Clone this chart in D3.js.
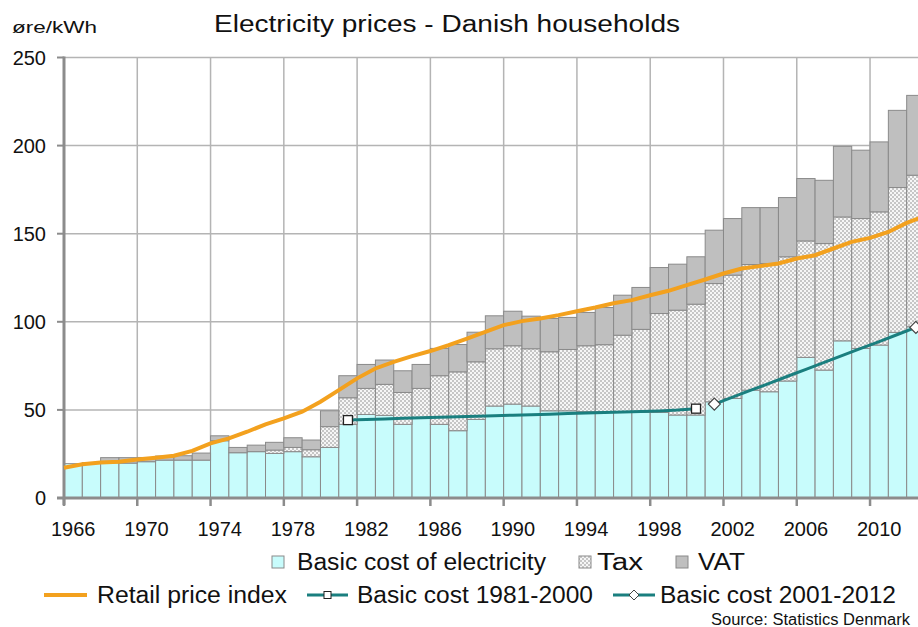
<!DOCTYPE html>
<html>
<head>
<meta charset="utf-8">
<script src="https://cdn.jsdelivr.net/npm/d3@7/dist/d3.min.js"></script>
<style>
	body { margin: 0; background: #fff; }
	text { font-family: "Liberation Sans", Arial, sans-serif; fill: #111; }
</style>
</head>
<body>
<script>
// Electricity prices for Danish households, øre/kWh
var years = d3.range(1966, 2013);

var basicCost = [19.5, 20, 20, 19.8, 20.6, 21.5, 21.5, 21.5, 32.5, 25.7,
	26.3, 25.3, 26.3, 23.4, 28.7, 41.8, 47.4, 46.9, 41.8, 45.6,
	41.8, 38.2, 44.6, 52.2, 53.3, 52.2, 49.5, 49.5, 49.0, 49.0,
	48.6, 48.6, 48.6, 47.1, 47.1, 54.6, 56.5, 61.2, 60.3, 66.4,
	79.8, 72.6, 89.2, 84.9, 86.8, 94.0, 97.2];

var tax = [0, 0, 0, 0, 0, 0, 0, 0, 0, 0,
	0, 1.9, 2.4, 4.0, 11.8, 15.1, 14.8, 17.6, 18.1, 16.6,
	27.6, 33.4, 32.7, 32.5, 33.1, 32.5, 33.5, 34.8, 37.4, 38.0,
	43.8, 47.1, 56.1, 59.5, 62.9, 67.1, 70.0, 71.3, 72.8, 70.5,
	66.1, 71.8, 70.3, 73.7, 75.6, 82.2, 86.0];

var vat = [0, 0, 2.9, 3.1, 2.4, 2.3, 2.5, 4.0, 2.8, 3.0,
	3.7, 4.4, 5.5, 5.5, 9.0, 12.5, 13.6, 13.8, 12.3, 13.6,
	15.5, 15.5, 16.8, 18.7, 19.6, 18.5, 18.9, 18.2, 18.9, 21.1,
	22.7, 23.8, 26.1, 26.1, 26.9, 30.3, 32.1, 32.3, 31.7, 33.6,
	35.4, 35.9, 40.1, 38.8, 39.7, 43.8, 45.3];

// retail price index, read at the start of each year 1966-2013
var retailYears = d3.range(1966, 2014);
var retailIndex = [17.2, 19.1, 20.2, 20.6, 21.9, 22.9, 24.0, 26.7, 31.0, 33.8,
	37.6, 41.8, 45.2, 49.0, 54.6, 61.2, 67.9, 73.5, 77.3, 80.5,
	83.4, 86.8, 90.5, 94.3, 98.1, 100.4, 101.9, 103.8, 106.0, 108.1,
	110.5, 112.3, 115.1, 117.6, 120.8, 124.0, 127.4, 130.2, 131.6, 133.1,
	135.9, 137.8, 141.6, 145.4, 147.6, 151.0, 156.1, 160.0];

var trendYears1 = d3.range(1981, 2001);
var trend1 = [44.2, 44.6, 44.9, 45.2, 45.5, 45.8, 46.1, 46.4, 46.7, 47.0,
	47.3, 47.6, 47.9, 48.2, 48.5, 48.8, 49.1, 49.4, 49.9, 50.7];

var trendYears2 = d3.range(2001, 2013);
var trend2 = [53.3, 57.2, 61.2, 65.1, 69.1, 73.0, 77.0, 80.9, 84.9, 88.8, 92.8, 96.8];

var yTicks = [0, 50, 100, 150, 200, 250];
var xTickYears = d3.range(1966, 2013, 4);

var width = 918,
	height = 627,
	plotLeft = 64,
	plotRight = 925,
	plotTop = 57.5,
	plotBottom = 498,
	colorBasic = "#c8fcfc",
	colorVat = "#bfbfbf",
	colorRetail = "#f3a11e",
	colorTrend = "#1a7f7f",
	colorGrid = "#b4b4b4",
	colorAxis = "#8c8c8c";

var svg = d3.select("body")
	.append("svg")
	.attr("width", width)
	.attr("height", height);

// checkered fill for the tax part
var pattern = svg.append("defs")
	.append("pattern")
	.attr("id", "checker")
	.attr("width", 4)
	.attr("height", 4)
	.attr("patternUnits", "userSpaceOnUse");
pattern.append("rect").attr("width", 4).attr("height", 4).attr("fill", "#f6f6f6");
pattern.append("rect").attr("width", 2).attr("height", 2).attr("fill", "#c6c6c6");
pattern.append("rect").attr("x", 2).attr("y", 2).attr("width", 2).attr("height", 2).attr("fill", "#c6c6c6");

var x = d3.scaleBand().domain(years).range([plotLeft, plotRight]).paddingInner(0).paddingOuter(0);
var xYear = d3.scaleLinear().domain([1966, 2013]).range([plotLeft, plotRight]); // start of year
var y = d3.scaleLinear().domain([0, 250]).range([plotBottom, plotTop]);

// grid
svg.append("g")
	.selectAll("line")
	.data(yTicks.slice(1))
	.enter().append("line")
	.attr("x1", plotLeft).attr("x2", plotRight)
	.attr("y1", function(d) { return y(d); })
	.attr("y2", function(d) { return y(d); })
	.attr("stroke", colorGrid)
	.attr("stroke-width", 1.5);

svg.append("g")
	.selectAll("line")
	.data(xTickYears.slice(1))
	.enter().append("line")
	.attr("x1", function(d) { return x(d); })
	.attr("x2", function(d) { return x(d); })
	.attr("y1", plotTop).attr("y2", plotBottom)
	.attr("stroke", colorGrid)
	.attr("stroke-width", 1.5);

// stacked bars
var table = years.map(function(yr, i) {
	return { year: yr, basic: basicCost[i], tax: tax[i], vat: vat[i] };
});
var stack = d3.stack().keys(["basic", "tax", "vat"])(table);
var fills = { basic: colorBasic, tax: "url(#checker)", vat: colorVat };

svg.append("g")
	.selectAll("g")
	.data(stack)
	.enter().append("g")
	.attr("fill", function(d) { return fills[d.key]; })
	.selectAll("rect")
	.data(function(d) { return d.filter(function(p) { return p[1] - p[0] > 0; }); })
	.enter().append("rect")
	.attr("x", function(d) { return x(d.data.year); })
	.attr("width", x.bandwidth())
	.attr("y", function(d) { return y(d[1]); })
	.attr("height", function(d) { return y(d[0]) - y(d[1]); })
	.attr("stroke", "#8a8a8a")
	.attr("stroke-width", 1);

// axes
svg.append("line")
	.attr("x1", plotLeft).attr("x2", plotLeft)
	.attr("y1", plotTop - 1).attr("y2", plotBottom + 7)
	.attr("stroke", colorAxis).attr("stroke-width", 3);
svg.append("line")
	.attr("x1", plotLeft - 7).attr("x2", plotRight)
	.attr("y1", plotBottom).attr("y2", plotBottom)
	.attr("stroke", colorAxis).attr("stroke-width", 3);

svg.append("g")
	.selectAll("line")
	.data(yTicks)
	.enter().append("line")
	.attr("x1", plotLeft - 7).attr("x2", plotLeft)
	.attr("y1", function(d) { return y(d); })
	.attr("y2", function(d) { return y(d); })
	.attr("stroke", colorAxis).attr("stroke-width", 2);

svg.append("g")
	.selectAll("line")
	.data(xTickYears)
	.enter().append("line")
	.attr("x1", function(d) { return x(d); })
	.attr("x2", function(d) { return x(d); })
	.attr("y1", plotBottom).attr("y2", plotBottom + 8)
	.attr("stroke", colorAxis).attr("stroke-width", 2.5);

svg.append("g")
	.selectAll("text")
	.data(yTicks)
	.enter().append("text")
	.attr("x", 46)
	.attr("y", function(d) { return y(d); })
	.attr("dy", "0.35em")
	.attr("text-anchor", "end")
	.style("font-size", "20px")
	.text(function(d) { return d; });

svg.append("g")
	.selectAll("text")
	.data(xTickYears)
	.enter().append("text")
	.attr("x", function(d) { return x(d) + x.bandwidth() / 2; })
	.attr("y", 529)
	.attr("dy", "0.35em")
	.attr("text-anchor", "middle")
	.style("font-size", "20px")
	.text(function(d) { return d; });

// lines
var retailLine = d3.line()
	.x(function(d, i) { return xYear(retailYears[i]); })
	.y(function(d) { return y(d); });

svg.append("path")
	.attr("d", retailLine(retailIndex))
	.attr("fill", "none")
	.attr("stroke", colorRetail)
	.attr("stroke-width", 4);

function trendLine(yrs, vals) {
	return d3.line()
		.x(function(d, i) { return x(yrs[i]) + x.bandwidth() / 2; })
		.y(function(d) { return y(d); })(vals);
}

svg.append("path")
	.attr("d", trendLine(trendYears1, trend1))
	.attr("fill", "none")
	.attr("stroke", colorTrend)
	.attr("stroke-width", 3);

svg.append("path")
	.attr("d", trendLine(trendYears2, trend2))
	.attr("fill", "none")
	.attr("stroke", colorTrend)
	.attr("stroke-width", 3);

// end markers
var ends1 = [0, trend1.length - 1];
svg.append("g")
	.selectAll("rect")
	.data(ends1)
	.enter().append("rect")
	.attr("x", function(i) { return x(trendYears1[i]) + x.bandwidth() / 2 - 4.5; })
	.attr("y", function(i) { return y(trend1[i]) - 4.5; })
	.attr("width", 9).attr("height", 9)
	.attr("fill", "#fff")
	.attr("stroke", "#222")
	.attr("stroke-width", 1.3);

var ends2 = [0, trend2.length - 1];
svg.append("g")
	.selectAll("path")
	.data(ends2)
	.enter().append("path")
	.attr("d", "M0,-6L6,0L0,6L-6,0Z")
	.attr("transform", function(i) {
		return "translate(" + (x(trendYears2[i]) + x.bandwidth() / 2) + "," + y(trend2[i]) + ")";
	})
	.attr("fill", "#fff")
	.attr("stroke", "#444")
	.attr("stroke-width", 1.2);

// titles
svg.append("text")
	.attr("x", 214).attr("y", 24).attr("dy", "0.35em")
	.attr("textLength", 466).attr("lengthAdjust", "spacingAndGlyphs")
	.style("font-size", "23px")
	.text("Electricity prices - Danish households");

svg.append("text")
	.attr("x", 12).attr("y", 27).attr("dy", "0.35em")
	.attr("textLength", 85).attr("lengthAdjust", "spacingAndGlyphs")
	.style("font-size", "17px")
	.text("øre/kWh");

// legend, first row: bar parts
var legendBars = [
	{ label: "Basic cost of electricity", fill: colorBasic, sx: 272, tx: 297, tw: 249 },
	{ label: "Tax", fill: "url(#checker)", sx: 579, tx: 597, tw: 46 },
	{ label: "VAT", fill: colorVat, sx: 676, tx: 698, tw: 47 }
];
var row1 = svg.append("g").selectAll("g").data(legendBars).enter().append("g");
row1.append("rect")
	.attr("x", function(d) { return d.sx; })
	.attr("y", 556)
	.attr("width", 12).attr("height", 12)
	.attr("fill", function(d) { return d.fill; })
	.attr("stroke", "#8a8a8a");
row1.append("text")
	.attr("x", function(d) { return d.tx; })
	.attr("y", 562).attr("dy", "0.35em")
	.attr("textLength", function(d) { return d.tw; })
	.attr("lengthAdjust", "spacingAndGlyphs")
	.style("font-size", "23px")
	.text(function(d) { return d.label; });

// legend, second row: lines
var legendLines = [
	{ label: "Retail price index", color: colorRetail, w: 4, x1: 44, x2: 87, marker: "none", tx: 97, tw: 190 },
	{ label: "Basic cost 1981-2000", color: colorTrend, w: 3, x1: 307, x2: 348, marker: "square", tx: 357, tw: 236 },
	{ label: "Basic cost 2001-2012", color: colorTrend, w: 3, x1: 613, x2: 655, marker: "diamond", tx: 660, tw: 236 }
];
var rowY = 595;
var row2 = svg.append("g").selectAll("g").data(legendLines).enter().append("g");
row2.append("line")
	.attr("x1", function(d) { return d.x1; })
	.attr("x2", function(d) { return d.x2; })
	.attr("y1", rowY).attr("y2", rowY)
	.attr("stroke", function(d) { return d.color; })
	.attr("stroke-width", function(d) { return d.w; });
row2.filter(function(d) { return d.marker == "square"; })
	.append("rect")
	.attr("x", function(d) { return (d.x1 + d.x2) / 2 - 3.5; })
	.attr("y", rowY - 3.5)
	.attr("width", 7).attr("height", 7)
	.attr("fill", "#fff").attr("stroke", "#222").attr("stroke-width", 1);
row2.filter(function(d) { return d.marker == "diamond"; })
	.append("path")
	.attr("d", "M0,-5L5,0L0,5L-5,0Z")
	.attr("transform", function(d) { return "translate(" + ((d.x1 + d.x2) / 2) + "," + rowY + ")"; })
	.attr("fill", "#fff").attr("stroke", "#444").attr("stroke-width", 1);
row2.append("text")
	.attr("x", function(d) { return d.tx; })
	.attr("y", rowY).attr("dy", "0.35em")
	.attr("textLength", function(d) { return d.tw; })
	.attr("lengthAdjust", "spacingAndGlyphs")
	.style("font-size", "23px")
	.text(function(d) { return d.label; });

svg.append("text")
	.attr("x", 711).attr("y", 619).attr("dy", "0.35em")
	.attr("textLength", 199).attr("lengthAdjust", "spacingAndGlyphs")
	.style("font-size", "16px")
	.text("Source: Statistics Denmark");
</script>
</body>
</html>
